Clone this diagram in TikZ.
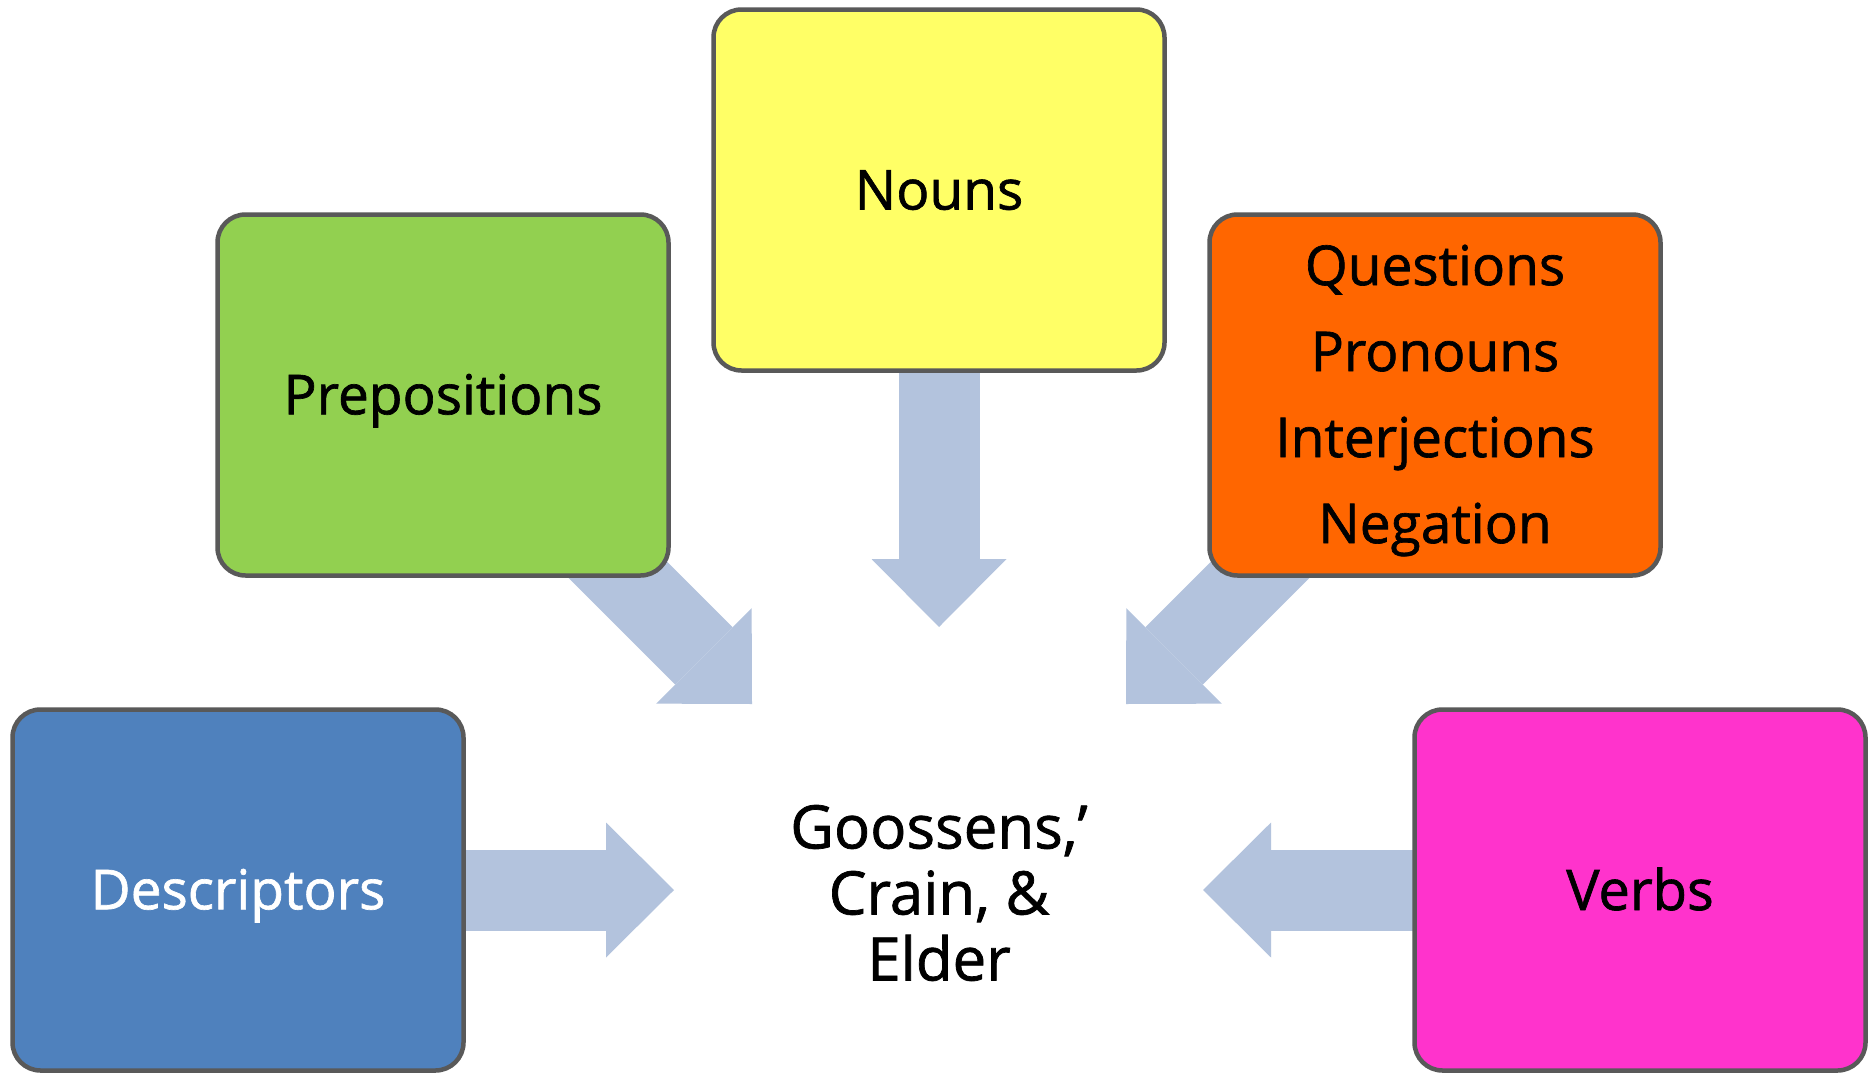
\documentclass[tikz,border=0pt]{standalone}
\usepackage{fontspec}
\setmainfont{Open Sans}[FakeBold=1.2]
\usetikzlibrary{arrows.meta,backgrounds}
\definecolor{bordc}{HTML}{595959}
\definecolor{arrc}{HTML}{B3C3DD}
\definecolor{cblue}{HTML}{4F81BD}
\definecolor{cgreen}{HTML}{92D050}
\definecolor{cyellow}{HTML}{FFFF66}
\definecolor{corange}{HTML}{FF6600}
\definecolor{cmagenta}{HTML}{FF33CC}
\begin{document}
\begin{tikzpicture}[x=1pt,y=-1pt,
  box/.style={draw=bordc, line width=4.5pt, rounded corners=28pt,
    minimum width=451pt, minimum height=361pt, inner sep=0pt, align=center},
  fatarrow/.style={line width=81pt, draw=arrc,
    -{Triangle[length=68pt,width=135pt,line width=0pt,fill=arrc]}}]
\useasboundingbox (0,0) rectangle (1868,1076);

\node[box, fill=cblue, text=white, font=\fontsize{55}{64}\selectfont,
  text height=38.5pt, text depth=0pt] (D) at (238,890) {Descriptors};
\node[box, fill=cmagenta, font=\fontsize{56}{66}\selectfont,
  text height=40pt, text depth=0pt] (V) at (1640,890) {Verbs};
\node[box, fill=cgreen, font=\fontsize{55}{64}\selectfont,
  text height=38.5pt, text depth=0pt] (P) at (443,395) {Prepositions};
\node[box, fill=cyellow, font=\fontsize{55}{65}\selectfont,
  text height=39pt, text depth=0pt] (N) at (939,190) {Nouns};
\node[box, fill=corange] (Q) at (1435,395) {};
\node[align=center, inner sep=0pt, font=\fontsize{55}{86}\selectfont] (Qt) at (1435,400.5)
  {Questions\\Pronouns\\Interjections\\Negation};
\node[align=center, inner sep=0pt, font=\fontsize{60}{66}\selectfont] (C) at (939,893)
  {Goossens,’\\Crain, \&\\Elder};

\coordinate (tD) at (674,890);
\coordinate (tV) at (1203,890);
\coordinate (tN) at (939,627);
\coordinate (tP) at (752,704);
\coordinate (tQ) at (1126,704);

\begin{scope}[on background layer]
\fill[white] (0,0) rectangle (1868,1076);
\draw[fatarrow] (D.center) -- (tD);
\draw[fatarrow] (V.center) -- (tV);
\draw[fatarrow] (N.center) -- (tN);
\draw[fatarrow] (P.center) -- (tP);
\draw[fatarrow] (Q.center) -- (tQ);
\end{scope}
\end{tikzpicture}
\end{document}
